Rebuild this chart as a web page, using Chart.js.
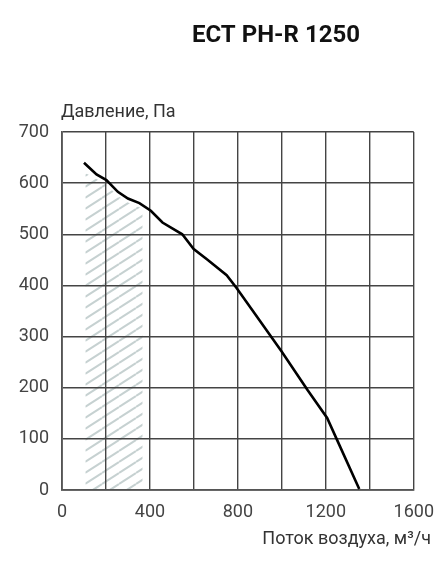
<!DOCTYPE html>
<html>
<head>
<meta charset="utf-8">
<script src="https://cdn.jsdelivr.net/npm/chart.js@4/dist/chart.umd.min.js"></script>
<style>
    html, body { margin: 0; padding: 0; background: #fff; }
    #wrap { width: 446px; height: 570px; }
</style>
</head>
<body>
<div id="wrap"><canvas id="fanChart" width="446" height="570"></canvas></div>
<script>
// Fan curve
const flowX = [100, 157, 202, 254, 300, 352, 404, 457, 547, 599, 659, 749, 794, 870, 999, 1116, 1206, 1251, 1352];
const pressureY = [640, 617, 606, 583, 570, 561, 546, 523, 500, 471, 451, 420, 395, 349, 271, 196, 141, 98, 2];

// Hatched (not recommended) zone under the curve
const hatchX = [106, 157, 202, 254, 300, 352, 367];
const hatchY = [620, 608, 597, 575, 562, 553, 549];

const xTickLabels = [0, 400, 800, 1200, 1600];
const yTickLabels = [0, 100, 200, 300, 400, 500, 600, 700];

const chartTitle = 'ECT PH-R 1250';
const yAxisTitle = 'Давление, Па';
const xAxisTitle = 'Поток воздуха, м³/ч';

document.addEventListener('DOMContentLoaded', function() {

    // --- diagonal stripe pattern for the hatched zone ---
    function makeHatch() {
        const w = 17, h = 11;
        const c = document.createElement('canvas');
        c.width = w; c.height = h;
        const g = c.getContext('2d');
        g.strokeStyle = '#c6d1d1';
        g.lineWidth = 2;
        [-1, 0, 1].forEach(k => {
            g.beginPath();
            g.moveTo(0, h + k * h);
            g.lineTo(w, k * h);
            g.stroke();
        });
        return g.createPattern(c, 'repeat');
    }

    // --- titles drawn as plain text ---
    const textPlugin = {
        id: 'texts',
        afterDraw(chart) {
            const ctx = chart.ctx;
            ctx.save();
            ctx.textBaseline = 'alphabetic';
            ctx.fillStyle = '#111';
            ctx.font = 'bold 24px Roboto';
            ctx.textAlign = 'center';
            ctx.fillText(chartTitle, 276, 42);

            ctx.fillStyle = '#333';
            ctx.font = '18px Roboto';
            ctx.textAlign = 'left';
            ctx.fillText(yAxisTitle, 61, 117);
            ctx.textAlign = 'right';
            ctx.fillText(xAxisTitle, 431, 544);
            ctx.restore();
        }
    };

    const ctx = document.getElementById('fanChart').getContext('2d');
    new Chart(ctx, {
        type: 'line',
        data: {
            datasets: [{
                data: flowX.map((x, i) => ({ x: x, y: pressureY[i] })),
                borderColor: '#000',
                borderWidth: 2.6,
                pointRadius: 0,
                tension: 0,
                fill: false
            }, {
                data: hatchX.map((x, i) => ({ x: x, y: hatchY[i] })),
                borderWidth: 0,
                borderColor: 'rgba(0,0,0,0)',
                backgroundColor: makeHatch(),
                pointRadius: 0,
                tension: 0,
                fill: 'origin'
            }]
        },
        options: {
            responsive: false,
            animation: false,
            layout: { padding: { top: 132, right: 29, bottom: 0, left: 0 } },
            plugins: {
                legend: { display: false },
                tooltip: { enabled: false },
                filler: { drawTime: 'beforeDraw' }
            },
            scales: {
                x: {
                    type: 'linear',
                    min: 0,
                    max: 1600,
                    afterFit: s => { s.height = 80; },
                    grid: { color: '#444', lineWidth: 1.4, drawTicks: false },
                    border: { color: '#555', width: 1.8 },
                    ticks: {
                        stepSize: 200,
                        padding: 12,
                        maxRotation: 0,
                        autoSkip: false,
                        color: '#444',
                        font: { family: 'Roboto', size: 18 },
                        callback: v => xTickLabels.includes(v) ? String(v) : ''
                    }
                },
                y: {
                    min: 0,
                    max: 700,
                    afterFit: s => { s.width = 62; },
                    grid: { color: '#444', lineWidth: 1.4, drawTicks: false },
                    border: { color: '#555', width: 1.8 },
                    ticks: {
                        stepSize: 100,
                        padding: 13,
                        color: '#444',
                        font: { family: 'Roboto', size: 18 },
                        callback: v => yTickLabels.includes(v) ? String(v) : ''
                    }
                }
            }
        },
        plugins: [textPlugin]
    });
});
</script>
</body>
</html>
